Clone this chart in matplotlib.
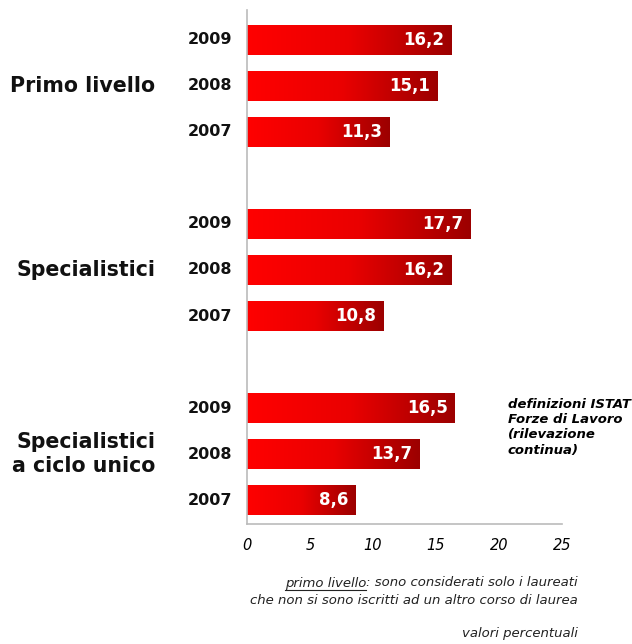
import matplotlib.pyplot as plt
import numpy as np
from matplotlib.colors import LinearSegmentedColormap

groups = ["Primo livello", "Specialistici", "Specialistici\na ciclo unico"]
years = ["2009", "2008", "2007"]
values = [
    [16.2, 15.1, 11.3],
    [17.7, 16.2, 10.8],
    [16.5, 13.7, 8.6],
]

W, H = 632, 644
fig = plt.figure(figsize=(W / 100, H / 100), dpi=100)
ax = fig.add_axes([247 / W, (H - 524) / H, (562 - 247) / W, (524 - 10) / H])

red_grad = LinearSegmentedColormap.from_list("redgrad", ["#ff0000", "#ea0000", "#9c0000"])
grad = np.linspace(0, 1, 256).reshape(1, -1)

bar_h = 0.65
for g, (gname, vals) in enumerate(zip(groups, values)):
    for k, (yr, v) in enumerate(zip(years, vals)):
        pos = g * 4 + k
        ax.imshow(grad, cmap=red_grad, aspect="auto", interpolation="bicubic",
                  extent=[0, v, pos + bar_h / 2, pos - bar_h / 2], zorder=2)
        ax.text(v - 0.55, pos, f"{v:.1f}".replace(".", ","), ha="right", va="center",
                color="white", fontsize=12, fontweight="bold", zorder=3)
        ax.text(-1.2, pos, yr, ha="right", va="center", fontsize=11.5,
                fontweight="bold", color="#111111")
    ax.text(-7.3, g * 4 + 1, gname, ha="right", va="center", fontsize=14.8,
            fontweight="bold", color="#111111", linespacing=1.3)

ax.set_xlim(0, 25)
ax.set_ylim(10.52, -0.65)
ax.set_xticks(range(0, 26, 5))
ax.set_xticklabels([str(t) for t in range(0, 26, 5)], fontstyle="italic", fontsize=10.5)
ax.set_yticks([])
ax.tick_params(axis="x", length=0, pad=10)
for side in ["top", "right"]:
    ax.spines[side].set_visible(False)
for side in ["left", "bottom"]:
    ax.spines[side].set_color("#bbbbbb")
    ax.spines[side].set_linewidth(1.2)

fig.text(508 / W, 1 - 398 / H,
         "definizioni ISTAT\nForze di Lavoro\n(rilevazione\ncontinua)",
         ha="left", va="top", fontsize=9.5, fontweight="bold", fontstyle="italic",
         linespacing=1.22)

fig.text(578 / W, 1 - 583 / H, ": sono considerati solo i laureati",
         ha="right", va="center", fontsize=9.5, fontstyle="italic", color="#222222")
fig.text(578 / W, 1 - 601 / H, "che non si sono iscritti ad un altro corso di laurea",
         ha="right", va="center", fontsize=9.5, fontstyle="italic", color="#222222")
fig.canvas.draw()
r = fig.canvas.get_renderer()
tail = fig.texts[-2].get_window_extent(r)
head = fig.text(tail.x0 / W, 1 - 583 / H, "primo livello", ha="right", va="center",
                fontsize=9.5, fontstyle="italic", color="#222222")
hb = head.get_window_extent(r)
fig.add_artist(plt.Line2D([hb.x0 / W, hb.x1 / W], [hb.y0 / H, hb.y0 / H],
                          color="#222222", linewidth=0.8))

fig.text(578 / W, 1 - 634 / H, "valori percentuali", ha="right", va="center",
         fontsize=9.5, fontstyle="italic", color="#222222")

fig.savefig("out.png", dpi=100)
